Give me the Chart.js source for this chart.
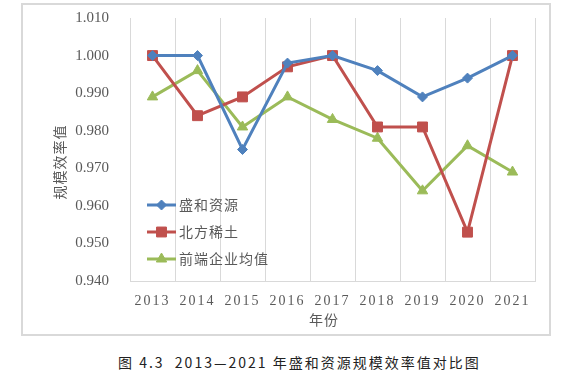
<!DOCTYPE html>
<html>
<head>
<meta charset="utf-8">
<script src="https://cdn.jsdelivr.net/npm/chart.js@4/dist/chart.umd.min.js"></script>
<style>
body{margin:0;background:#fff;width:572px;height:372px;overflow:hidden;position:relative;}
#box{position:absolute;left:21px;top:3px;width:526px;height:329px;border:2px solid #d9d9d9;}
#caption{position:absolute;left:118px;top:352px;font:14px "Noto Sans CJK SC";letter-spacing:2px;color:#222;white-space:pre;}
</style>
</head>
<body>
<div id="box"><canvas id="chart" width="526" height="329"></canvas></div>
<div id="caption">图 4.3  2013—2021 年盛和资源规模效率值对比图</div>
<script>
// data
const years = ["2013","2014","2015","2016","2017","2018","2019","2020","2021"];
const shengHe = [1.000,1.000,0.975,0.998,1.000,0.996,0.989,0.994,1.000];
const beiFang = [1.000,0.984,0.989,0.997,1.000,0.981,0.981,0.953,1.000];
const frontAvg = [0.989,0.996,0.981,0.989,0.983,0.978,0.964,0.976,0.969];
const yTicks = [0.94,0.95,0.96,0.97,0.98,0.99,1.00,1.01];
const yTitle = "规模效率值";
const xTitle = "年份";

const grey = "#595959";

// legend + axis titles drawn inside, like the Excel original
const extras = {
  id: "extras",
  afterDraw(chart){
    const ctx = chart.ctx;
    const a = chart.chartArea;
    ctx.save();
    ctx.letterSpacing = "1px";
    ctx.font = '14px "Noto Sans CJK SC"';
    ctx.textBaseline = "middle";
    chart.data.datasets.forEach((ds, i) => {
      const y = a.top + 187 + i*27;
      const x0 = a.left + 17;
      ctx.strokeStyle = ds.borderColor;
      ctx.lineWidth = ds.borderWidth;
      ctx.beginPath();
      ctx.moveTo(x0, y);
      ctx.lineTo(x0 + 29, y);
      ctx.stroke();
      ctx.fillStyle = ds.borderColor;
      ctx.lineWidth = 1;
      Chart.helpers.drawPoint(ctx, {pointStyle: ds.pointStyle, radius: ds.pointRadius, rotation: 0, borderWidth: 1}, x0 + 14.5, y);
      ctx.fillStyle = grey;
      ctx.textAlign = "left";
      ctx.fillText(ds.label, x0 + 32, y);
    });
    // y title
    ctx.save();
    ctx.translate(37, 157);
    ctx.rotate(-Math.PI/2);
    ctx.textAlign = "center";
    ctx.fillText(yTitle, 0, 0);
    ctx.restore();
    // x title
    ctx.textAlign = "center";
    ctx.fillText(xTitle, 301, 315);
    ctx.restore();
  }
};

const ctx = document.getElementById("chart").getContext("2d");

const chart = new Chart(ctx, {
  type: "line",
  data: {
    labels: years,
    datasets: [
      {label: "盛和资源", data: shengHe, borderColor: "#4f81bd", backgroundColor: "#4f81bd", borderWidth: 3, pointStyle: "rectRot", pointRadius: 5, pointBorderWidth: 1},
      {label: "北方稀土", data: beiFang, borderColor: "#c0504d", backgroundColor: "#c0504d", borderWidth: 3, pointStyle: "rect", pointRadius: 7, pointBorderWidth: 1},
      {label: "前端企业均值", data: frontAvg, borderColor: "#9bbb59", backgroundColor: "#9bbb59", borderWidth: 3, pointStyle: "triangle", pointRadius: 6, pointBorderWidth: 1}
    ]
  },
  options: {
    responsive: false,
    animation: false,
    devicePixelRatio: 1,
    layout: {padding: {top: 13, right: 14, left: 0, bottom: 0}},
    plugins: {legend: {display: false}, tooltip: {enabled: false}},
    scales: {
      x: {
        offset: true,
        grid: {offset: true, color: "#d9d9d9", drawTicks: false},
        border: {display: true, color: "#d9d9d9"},
        ticks: {padding: 12, color: grey, font: {family: "Liberation Serif", size: 14}, maxRotation: 0},
        afterFit(scale){ scale.height = 53; scale.paddingLeft = 0; scale.paddingRight = 0; },
        afterUpdate(scale){
          const orig = Object.getPrototypeOf(scale).drawLabels;
          scale.drawLabels = function(area){
            this.ctx.save();
            this.ctx.letterSpacing = "2px";
            orig.call(this, area);
            this.ctx.restore();
          };
        }
      },
      y: {
        min: 0.94,
        max: 1.01,
        afterBuildTicks(scale){ scale.ticks = yTicks.map(v => ({value: v})); },
        grid: {display: false},
        border: {display: false},
        ticks: {padding: 13, color: grey, font: {family: "Liberation Serif", size: 15}, callback: v => v.toFixed(3)},
        afterFit(scale){ scale.width = 107; scale.paddingTop = 0; scale.paddingBottom = 0; }
      }
    }
  },
  plugins: [extras]
});
</script>
</body>
</html>
